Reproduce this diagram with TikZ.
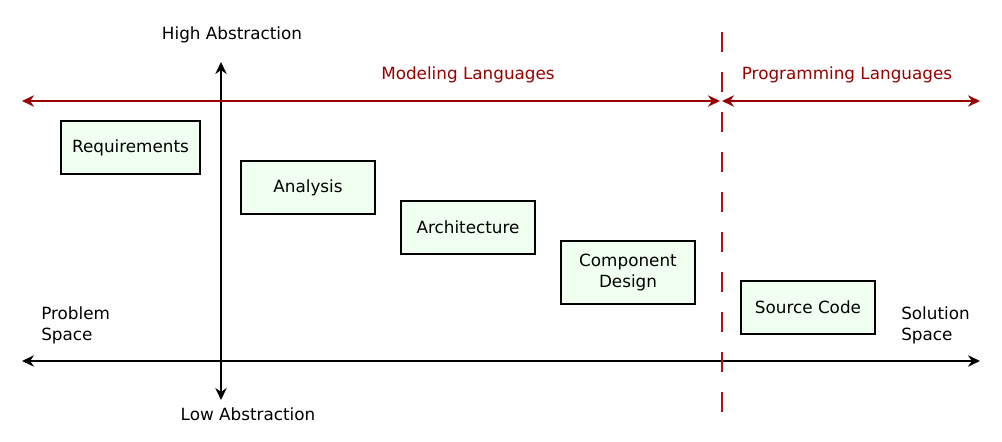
\documentclass[tikz,border=0pt]{standalone}
\usepackage{fontspec}
\setmainfont{DejaVu Sans}
\usepackage{xcolor}
\usetikzlibrary{arrows.meta}

\definecolor{langred}{RGB}{153,0,0}
\definecolor{cutred}{RGB}{176,20,20}
\definecolor{boxfill}{RGB}{240,255,240}

\begin{document}
\begin{tikzpicture}[x = 0.75pt, y = -0.75pt,
  font = \fontsize{12.6}{15.75}\selectfont,
  stage/.style = {draw, fill = boxfill, line width = 1.5pt, inner sep = 0pt, align = center, minimum width = 100.5pt, minimum height = 39.75pt},
  axis/.style = {line width = 1.5pt, {Stealth[length = 9pt, width = 8.5pt, inset = 3pt]}-{Stealth[length = 9pt, width = 8.5pt, inset = 3pt]}},
  lbl/.style = {inner sep = 0pt}]
\useasboundingbox (0,0) rectangle (1002,442);

% stages
\node[stage, minimum width = 104.25pt] (req) at (130.5,147.5) {Requirements};
\node[stage] (ana) at (308,187.5) {Analysis};
\node[stage] (arch) at (468,227.5) {Architecture};
\node[stage, minimum height = 47.25pt] (comp) at (628,272.5) {Component\\Design};
\node[stage] (src) at (808,307.5) {Source Code};

% axes
\coordinate (W) at (22,361);
\coordinate (E) at (980,361);
\coordinate (N) at (221,62);
\coordinate (S) at (221,400);
\draw[axis] (W) -- (E);
\draw[axis] (N) -- (S);
\node[lbl] (high) at (232,35) {High Abstraction};
\node[lbl] (low) at (248,414) {Low Abstraction};
\node[lbl, anchor = west, align = left] (prob) at (41,325.5) {Problem\\Space};
\node[lbl, anchor = west, align = left] (sol) at (901,325.5) {Solution\\Space};

% languages
\coordinate (mL) at (22,101);
\coordinate (mR) at (720,101);
\coordinate (pL) at (722,101);
\coordinate (pR) at (980,101);
\coordinate (cutT) at (722,32);
\coordinate (cutB) at (722,412);
\draw[cutred, line width = 1.5pt, dash pattern = on 15pt off 15pt] (cutT) -- (cutB);
\foreach \i/\j in {mL/mR, pL/pR}{
\draw[axis, langred] (\i) -- (\j);
}
\node[lbl, langred] (model) at (468,75) {Modeling Languages};
\node[lbl, langred] (prog) at (847,75) {Programming Languages};
\end{tikzpicture}
\end{document}
